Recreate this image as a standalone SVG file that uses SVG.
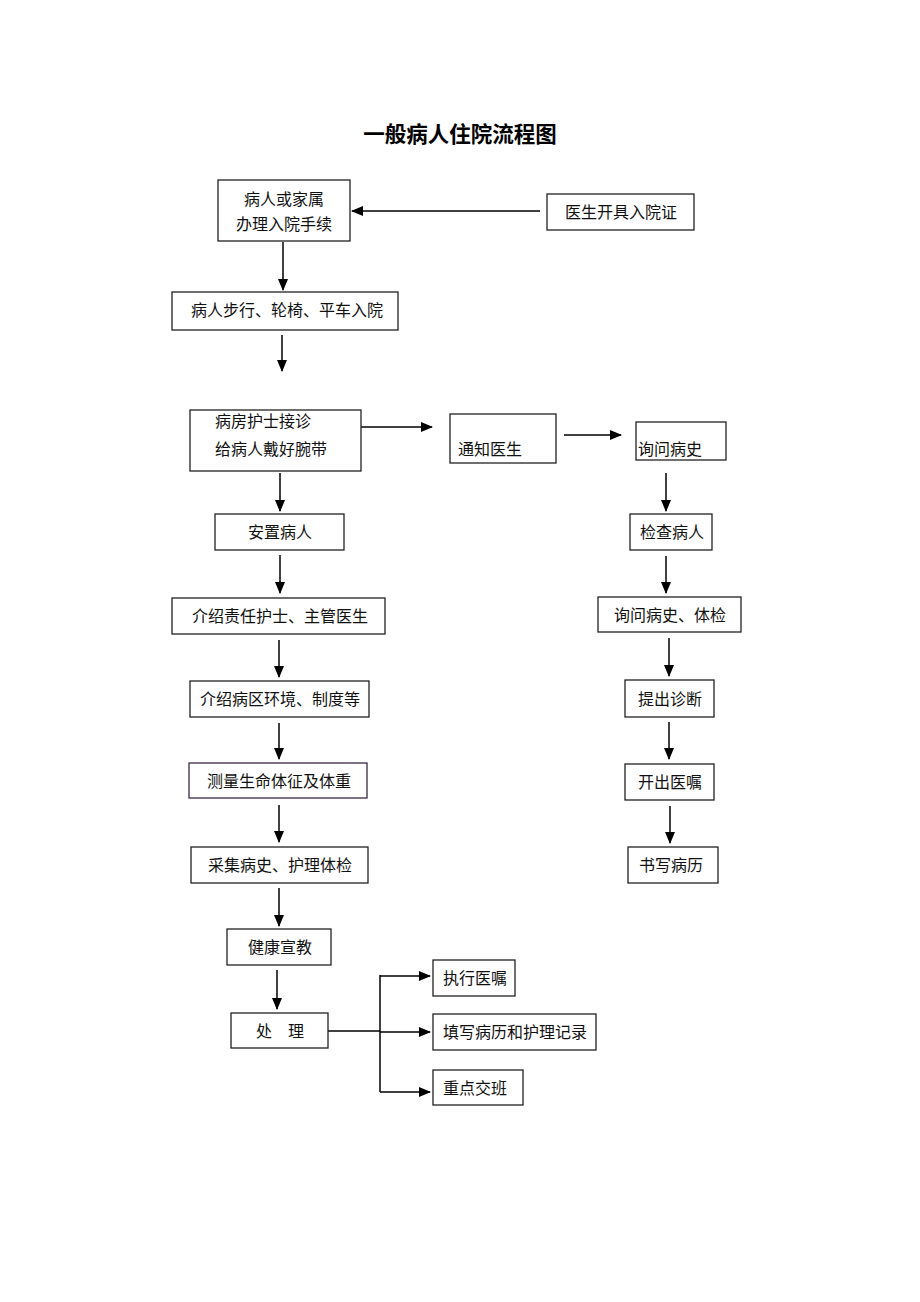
<svg xmlns="http://www.w3.org/2000/svg" width="920" height="1302" viewBox="0 0 920 1302">
<style>
  .box { fill: #fff; stroke: #222; stroke-width: 1.3; }
  .t { font-family: "Noto Sans CJK SC", "Noto Sans CJK TC", sans-serif; font-size: 16px; fill: #111; }
  .c { text-anchor: middle; }
  .title { font-family: "Noto Sans CJK SC", sans-serif; font-size: 21.5px; font-weight: bold; fill: #000; text-anchor: middle; }
  .ln { stroke: #000; stroke-width: 1.5; fill: none; }
  .arr { stroke: #000; stroke-width: 1.5; fill: none; marker-end: url(#ah); }
</style>
<defs>
  <marker id="ah" markerUnits="userSpaceOnUse" markerWidth="12" markerHeight="12" viewBox="0 0 12 12" refX="11" refY="6" orient="auto">
    <path d="M0,1 L12,6 L0,11 Z" fill="#000"/>
  </marker>
</defs>
<rect width="920" height="1302" fill="#fff"/>
<text class="title" x="460" y="142">一般病人住院流程图</text>

<g id="connectors">
  <line class="arr" x1="540" y1="211" x2="352" y2="211"/>
  <line class="arr" x1="283" y1="242" x2="283" y2="290"/>
  <line class="arr" x1="282" y1="335" x2="282" y2="371"/>
  <line class="arr" x1="361" y1="427" x2="432" y2="427"/>
  <line class="arr" x1="564" y1="435" x2="621" y2="435"/>
  <line class="arr" x1="280" y1="473" x2="280" y2="511"/>
  <line class="arr" x1="280" y1="555" x2="280" y2="593"/>
  <line class="arr" x1="279" y1="640" x2="279" y2="677"/>
  <line class="arr" x1="279" y1="723" x2="279" y2="759"/>
  <line class="arr" x1="279" y1="805" x2="279" y2="842"/>
  <line class="arr" x1="279" y1="888" x2="279" y2="926"/>
  <line class="arr" x1="277" y1="970" x2="277" y2="1009"/>
  <line class="arr" x1="666" y1="473" x2="666" y2="511"/>
  <line class="arr" x1="666" y1="556" x2="666" y2="593"/>
  <line class="arr" x1="669" y1="638" x2="669" y2="676"/>
  <line class="arr" x1="669" y1="722" x2="669" y2="759"/>
  <line class="arr" x1="670" y1="806" x2="670" y2="843"/>
  <line class="ln" x1="328" y1="1031" x2="380" y2="1031"/>
  <line class="ln" x1="380" y1="975" x2="380" y2="1092"/>
  <line class="arr" x1="380" y1="976" x2="430" y2="976"/>
  <line class="arr" x1="380" y1="1032" x2="430" y2="1032"/>
  <line class="arr" x1="380" y1="1092" x2="430" y2="1092"/>
</g>

<g id="n1"><rect class="box" x="218" y="180" width="132" height="61"/>
  <text class="t c" x="284" y="205">病人或家属</text>
  <text class="t c" x="284" y="230">办理入院手续</text></g>
<g id="n2"><rect class="box" x="547" y="194" width="147" height="36"/>
  <text class="t c" x="621" y="218">医生开具入院证</text></g>
<g id="n3"><rect class="box" x="172" y="292" width="226" height="38"/>
  <text class="t c" x="287" y="316">病人步行、轮椅、平车入院</text></g>
<g id="n4"><rect class="box" x="190" y="410" width="171" height="61"/>
  <text class="t" x="215" y="427">病房护士接诊</text>
  <text class="t" x="215" y="455">给病人戴好腕带</text></g>
<g id="n5"><rect class="box" x="450" y="414" width="106" height="49"/>
  <text class="t" x="458" y="455">通知医生</text></g>
<g id="n6"><rect class="box" x="636" y="422" width="90" height="38"/>
  <text class="t" x="638" y="455">询问病史</text></g>
<g id="n7"><rect class="box" x="215" y="514" width="129" height="36"/>
  <text class="t c" x="280" y="538">安置病人</text></g>
<g id="n8"><rect class="box" x="630" y="514" width="82" height="36"/>
  <text class="t c" x="672" y="538">检查病人</text></g>
<g id="n9"><rect class="box" x="172" y="598" width="213" height="36"/>
  <text class="t c" x="280" y="622">介绍责任护士、主管医生</text></g>
<g id="n10"><rect class="box" x="598" y="597" width="143" height="35"/>
  <text class="t c" x="670" y="621">询问病史、体检</text></g>
<g id="n11"><rect class="box" x="190" y="681" width="179" height="36"/>
  <text class="t c" x="280" y="705">介绍病区环境、制度等</text></g>
<g id="n12"><rect class="box" x="625" y="680" width="89" height="37"/>
  <text class="t c" x="670" y="705">提出诊断</text></g>
<g id="n13"><rect class="box" x="189" y="763" width="178" height="35" style="stroke:#3a2a44"/>
  <text class="t c" x="279" y="787">测量生命体征及体重</text></g>
<g id="n14"><rect class="box" x="625" y="764" width="89" height="36"/>
  <text class="t c" x="670" y="788">开出医嘱</text></g>
<g id="n15"><rect class="box" x="191" y="847" width="177" height="36"/>
  <text class="t c" x="280" y="871">采集病史、护理体检</text></g>
<g id="n16"><rect class="box" x="628" y="847" width="90" height="36"/>
  <text class="t c" x="671" y="871">书写病历</text></g>
<g id="n17"><rect class="box" x="227" y="929" width="104" height="36"/>
  <text class="t c" x="280" y="953">健康宣教</text></g>
<g id="n18"><rect class="box" x="231" y="1013" width="97" height="35"/>
  <text class="t" x="256" y="1037">处</text>
  <text class="t" x="288" y="1037">理</text></g>
<g id="n19"><rect class="box" x="433" y="960" width="82" height="36"/>
  <text class="t" x="443" y="984">执行医嘱</text></g>
<g id="n20"><rect class="box" x="433" y="1014" width="163" height="36"/>
  <text class="t" x="443" y="1038">填写病历和护理记录</text></g>
<g id="n21"><rect class="box" x="433" y="1070" width="90" height="35"/>
  <text class="t" x="443" y="1094">重点交班</text></g>
</svg>
